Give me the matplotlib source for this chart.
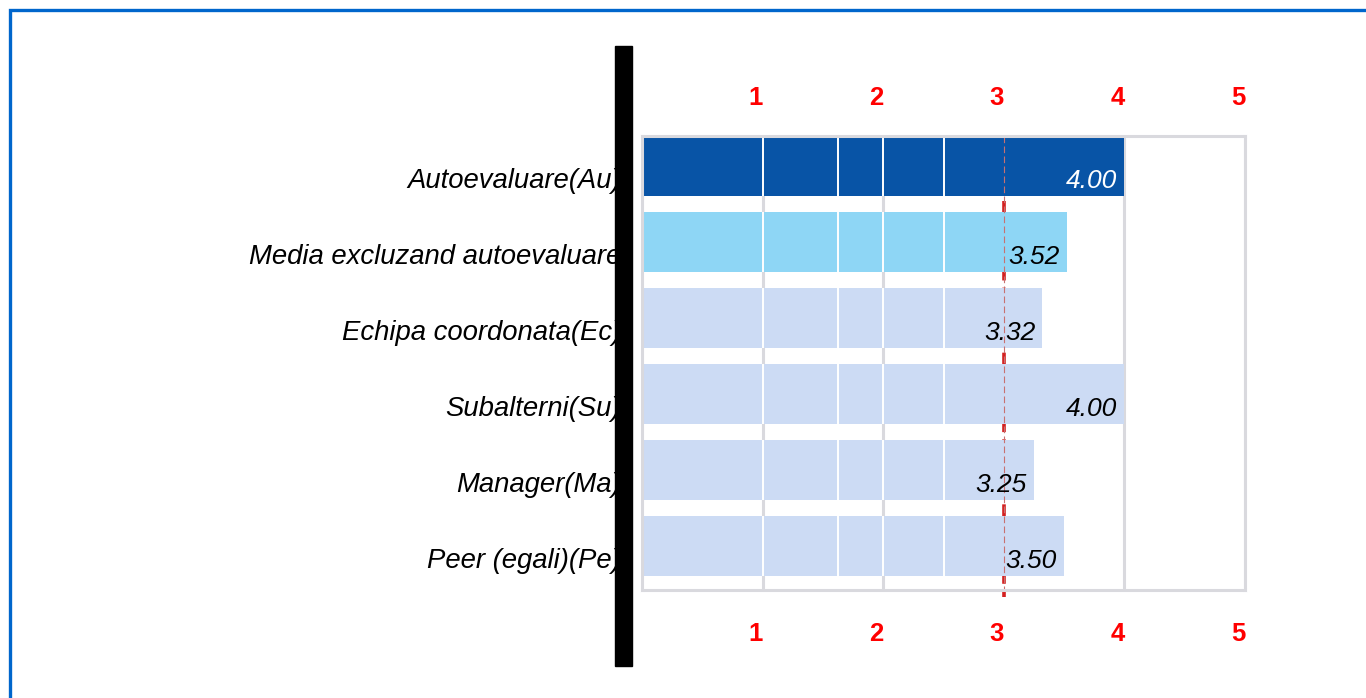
import matplotlib
matplotlib.use("Agg")
import matplotlib.pyplot as plt
from matplotlib.lines import Line2D
from matplotlib.patches import Rectangle
from matplotlib.transforms import ScaledTranslation, blended_transform_factory

plt.rcParams['font.family'] = ['Liberation Sans', 'DejaVu Sans']

# Rating sources and their average scores (scale 1-5)
categories = [
    "Autoevaluare(Au)",
    "Media excluzand autoevaluare",
    "Echipa coordonata(Ec)",
    "Subalterni(Su)",
    "Manager(Ma)",
    "Peer (egali)(Pe)",
]
scores = [4.00, 3.52, 3.32, 4.00, 3.25, 3.50]
bar_colors = ["#0854A6", "#8ED6F5", "#CCDBF4", "#CCDBF4", "#CCDBF4", "#CCDBF4"]
label_colors = ["white", "black", "black", "black", "black", "black"]
scale_ticks = [1, 2, 3, 4, 5]
scale_labels = ["1", "2", "3", "4", "5"]
reference_level = 3
band_edges = [1, 1.625, 2, 2.5]

W, H = 1366, 698
fig = plt.figure(figsize=(W / 100, H / 100), dpi=100)
fig.patch.set_facecolor("white")

ax = fig.add_axes([642 / W, 1 - 590 / H, (1245 - 642) / W, (590 - 136) / H])
ax.set_xlim(0, 5)
ax.set_ylim(5.58, -0.40)

bar_h = 0.79
ys = list(range(len(categories)))
ax.barh(ys, scores, height=bar_h, color=bar_colors, zorder=2)

# grey grid behind the bars
for t in scale_ticks:
    if t != reference_level:
        ax.axvline(t, color="#D9D9DE", lw=2.2, zorder=1)

# white separators inside each bar
for y, s in zip(ys, scores):
    for e in band_edges:
        if e < s:
            ax.vlines(e, y - bar_h / 2, y + bar_h / 2, color="white", lw=1.4, zorder=3)

# reference dashed line at the scale midpoint
ax.plot([reference_level, reference_level], [-0.40, 5.67], color="#D42020", lw=2.6,
        ls=(0, (4, 2)), zorder=1.5, clip_on=False)
ax.plot([reference_level, reference_level], [-0.40, 5.58], color="#C87070", lw=0.8,
        ls=(0, (6, 3)), zorder=3.5)

# value labels inside the bars
val_off = ScaledTranslation(-7 / 100, -15 / 100, fig.dpi_scale_trans)
for y, s, c in zip(ys, scores, label_colors):
    ax.text(s, y, f"{s:.2f}", ha="right", va="center", fontsize=19,
            style="italic", color=c, zorder=5, transform=ax.transData + val_off)

# category labels
cat_off = ScaledTranslation(0, -15 / 100, fig.dpi_scale_trans)
cat_tr = blended_transform_factory(fig.transFigure, ax.transData) + cat_off
for y, name in zip(ys, categories):
    ax.text(621 / W, y, name, ha="right", va="center", fontsize=19.8,
            style="italic", color="black", transform=cat_tr)

ax.set_yticks([])
ax.set_xticks(scale_ticks)
ax.set_xticklabels(scale_labels)
ax.tick_params(axis="x", which="both", length=0, top=True, bottom=True,
               labeltop=True, labelbottom=True, pad=23, labelsize=18.5,
               labelcolor="#FF0000")
shift_bottom = ScaledTranslation(-7 / 100, 0, fig.dpi_scale_trans)
shift_top = ScaledTranslation(-7 / 100, -6 / 100, fig.dpi_scale_trans)
for tk in ax.xaxis.get_major_ticks():
    tk.label1.set_fontweight("bold")
    tk.label2.set_fontweight("bold")
    tk.label1.set_transform(tk.label1.get_transform() + shift_bottom)
    tk.label2.set_transform(tk.label2.get_transform() + shift_top)

for sp in ax.spines.values():
    sp.set_color("#D9D9DE")
    sp.set_linewidth(2.2)
    sp.set_zorder(4)

# thick black divider between labels and chart
fig.add_artist(Rectangle((615 / W, 1 - 666 / H), 17 / W, 620 / H,
                         transform=fig.transFigure, color="black", zorder=10))

# blue frame (top and left edges)
fig.add_artist(Line2D([10 / W, 10 / W, 1.0], [0.0, 1 - 9.5 / H, 1 - 9.5 / H],
                      transform=fig.transFigure, color="#0066CC", lw=2.4,
                      solid_joinstyle="miter", zorder=10))

fig.savefig("out.png", dpi=100, facecolor="white")
